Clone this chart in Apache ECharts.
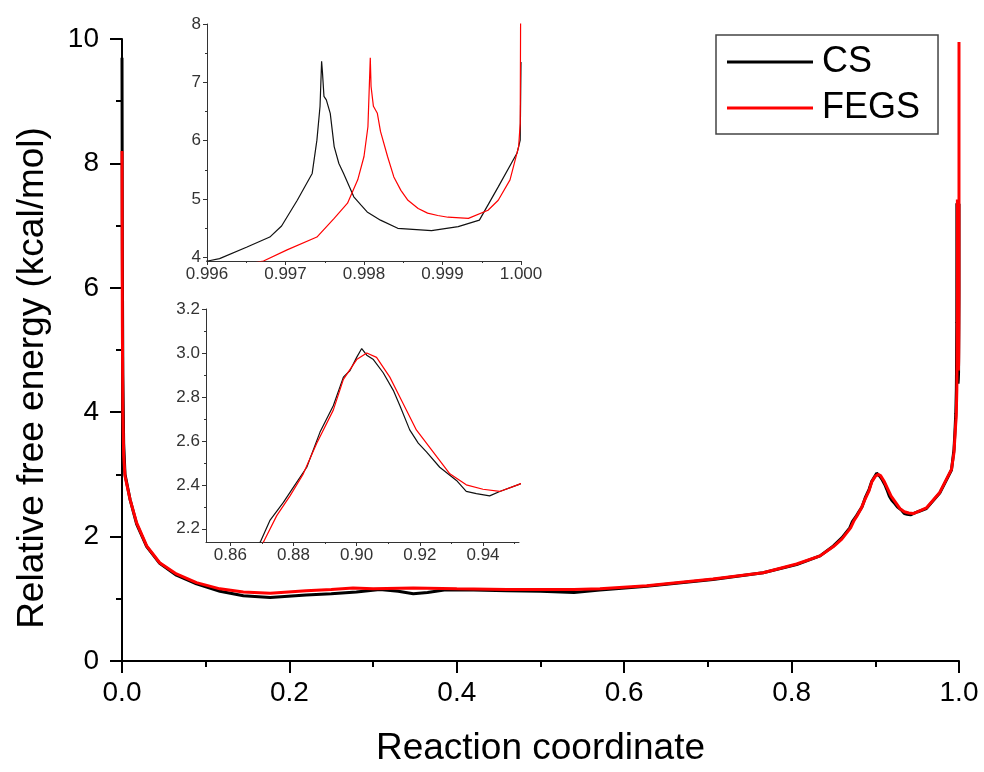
<!DOCTYPE html>
<html>
<head>
<meta charset="utf-8">
<title>Relative free energy</title>
<script src="https://cdn.jsdelivr.net/npm/echarts@6.0.0/dist/echarts.min.js"></script>
<style>
    html, body { margin: 0; padding: 0; background: #fff; }
    #main { width: 984px; height: 772px; }
</style>
</head>
<body>
<div id="main"></div>
<script>
// values: [reaction coordinate, free energy]
var csBody = [[0, 9.7], [0.0004, 6.6], [0.001, 4.6], [0.002, 3.5], [0.0036, 3.0], [0.0096, 2.6], [0.0175, 2.2],
    [0.0295, 1.84], [0.045, 1.57], [0.065, 1.38], [0.089, 1.24], [0.117, 1.12], [0.145, 1.05], [0.177, 1.02],
    [0.22, 1.06], [0.25, 1.08], [0.28, 1.11], [0.308, 1.15], [0.33, 1.12], [0.348, 1.08], [0.365, 1.10],
    [0.385, 1.14], [0.42, 1.14], [0.46, 1.13], [0.5, 1.12], [0.54, 1.10], [0.571, 1.14], [0.627, 1.20],
    [0.706, 1.31], [0.766, 1.42], [0.806, 1.55], [0.834, 1.69], [0.85, 1.85], [0.86, 1.98]];
var csPeak = [[0.8695, 2.14], [0.8726, 2.24], [0.8768, 2.32], [0.88, 2.39], [0.8842, 2.48], [0.8884, 2.64],
    [0.8926, 2.76], [0.8958, 2.89], [0.8979, 2.92], [0.9, 2.98], [0.9016, 3.02], [0.9032, 2.99], [0.9053, 2.97],
    [0.9084, 2.91], [0.9116, 2.83], [0.9137, 2.76], [0.9168, 2.65], [0.9195, 2.59], [0.9221, 2.55],
    [0.9263, 2.48], [0.9316, 2.42], [0.9347, 2.37], [0.9379, 2.36], [0.9421, 2.35], [0.9453, 2.37],
    [0.951, 2.40], [0.961, 2.45], [0.977, 2.70], [0.991, 3.07], [0.994, 3.4], [0.995, 3.65]];
var csEnd = [[0.99601, 3.94], [0.99616, 3.98], [0.99651, 4.18], [0.9968, 4.35], [0.99695, 4.54], [0.99715, 4.98],
    [0.99734, 5.44], [0.9974, 6.01], [0.99744, 6.59], [0.99746, 7.36], [0.99747, 7.19], [0.99749, 6.76],
    [0.99752, 6.70], [0.99757, 6.47], [0.99762, 5.90], [0.99768, 5.61], [0.99774, 5.44], [0.99787, 5.04],
    [0.99796, 4.90], [0.99804, 4.78], [0.99821, 4.64], [0.99843, 4.50], [0.99886, 4.46], [0.9992, 4.53],
    [0.99947, 4.64], [0.99971, 5.21], [0.99995, 5.79], [0.99999, 6.01], [1.0, 7.35]];

var fegsBody = [[0, 8.2], [0.0004, 5.5], [0.001, 4.0], [0.002, 3.3], [0.0036, 2.97], [0.0096, 2.6], [0.0175, 2.22],
    [0.0295, 1.85], [0.045, 1.58], [0.065, 1.40], [0.089, 1.26], [0.117, 1.16], [0.145, 1.11], [0.177, 1.09],
    [0.22, 1.13], [0.25, 1.15], [0.276, 1.175], [0.30, 1.16], [0.348, 1.175], [0.40, 1.16], [0.46, 1.15],
    [0.54, 1.15], [0.571, 1.16], [0.627, 1.21], [0.706, 1.32], [0.766, 1.42], [0.806, 1.56], [0.834, 1.69],
    [0.85, 1.84], [0.86, 1.96]];
var fegsPeak = [[0.8705, 2.14], [0.8747, 2.26], [0.8789, 2.35], [0.8831, 2.45], [0.8874, 2.59], [0.8926, 2.74],
    [0.8958, 2.88], [0.9, 2.97], [0.9032, 3.0], [0.9063, 2.98], [0.9105, 2.89], [0.9147, 2.77], [0.9189, 2.65],
    [0.9242, 2.55], [0.9295, 2.45], [0.9347, 2.40], [0.94, 2.38], [0.9453, 2.37], [0.951, 2.40], [0.961, 2.46],
    [0.977, 2.71], [0.991, 3.08], [0.994, 3.35], [0.996, 3.8]];
var fegsEnd = [[0.99657, 3.90], [0.99672, 3.94], [0.99702, 4.13], [0.9974, 4.35], [0.99762, 4.67], [0.99779, 4.93],
    [0.99792, 5.33], [0.998, 5.73], [0.99805, 6.24], [0.99808, 7.42], [0.99809, 6.93], [0.99812, 6.59],
    [0.99817, 6.47], [0.99821, 6.16], [0.9983, 5.73], [0.99838, 5.38], [0.99847, 5.15], [0.99856, 4.98],
    [0.99869, 4.84], [0.99881, 4.76], [0.99894, 4.72], [0.99907, 4.69], [0.99933, 4.67], [0.99958, 4.81],
    [0.99971, 4.98], [0.99986, 5.33], [0.99997, 5.90], [0.99999, 6.3], [1.0, 9.95]];

// tick values of the two insets
var inset1XTicks = [0.996, 0.997, 0.998, 0.999, 1.000];
var inset1XMinor = [0.9965, 0.9975, 0.9985, 0.9995];
var inset1YTicks = [4, 5, 6, 7, 8];
var inset1YMinor = [4.5, 5.5, 6.5, 7.5];
var inset2XTicks = [0.86, 0.88, 0.90, 0.92, 0.94];
var inset2XMinor = [0.87, 0.89, 0.91, 0.93, 0.95];
var inset2YTicks = [2.2, 2.4, 2.6, 2.8, 3.0, 3.2];
var inset2YMinor = [2.3, 2.5, 2.7, 2.9, 3.1];

var FONT = '"Liberation Sans", Arial, sans-serif';
var csData = csBody.concat(csPeak, csEnd);
var fegsData = fegsBody.concat(fegsPeak, fegsEnd);

// axis of an inset: line, major ticks, labels
function insetAxis(grid, min, max, ticks, digits, isX) {
    return {
        type: 'value', gridIndex: grid, min: min, max: max,
        position: isX ? 'bottom' : 'left',
        axisLine: { show: true, onZero: false, lineStyle: { color: '#333', width: 1 } },
        axisTick: { show: true, customValues: ticks, length: 4, lineStyle: { color: '#333', width: 1 } },
        axisLabel: {
            customValues: ticks, margin: isX ? 5 : 6, color: '#333', fontSize: 17, fontFamily: FONT,
            formatter: function (v) { return v.toFixed(digits); }
        },
        splitLine: { show: false }
    };
}

// shadow axis carrying the short minor ticks only
function minorAxis(grid, min, max, ticks, isX) {
    return {
        type: 'value', gridIndex: grid, min: min, max: max,
        position: isX ? 'bottom' : 'left',
        axisLine: { show: false, onZero: false },
        axisTick: { show: true, customValues: ticks, length: 2, lineStyle: { color: '#333', width: 1 } },
        axisLabel: { show: false },
        splitLine: { show: false }
    };
}

function lineSeries(name, data, idx, color, width) {
    return {
        name: name, type: 'line', xAxisIndex: idx, yAxisIndex: idx, data: data,
        symbol: 'none', showSymbol: false, clip: true, animation: false,
        lineStyle: { color: color, width: width }, itemStyle: { color: color }
    };
}

var myChart = echarts.init(document.getElementById('main'));

var option = {
    backgroundColor: '#fff',
    animation: false,
    grid: [
        { left: 122, top: 39, width: 837, height: 627 },
        { left: 207, top: 24, width: 314, height: 237 },
        { left: 206, top: 309, width: 313, height: 233 }
    ],
    legend: {
        data: ['CS', 'FEGS'], orient: 'vertical', left: 716, top: 35,
        icon: 'rect', itemWidth: 86, itemHeight: 3, itemGap: 10,
        padding: [9, 18, 8, 11],
        borderColor: '#444', borderWidth: 1.5,
        textStyle: { fontSize: 36, fontFamily: FONT, color: '#000', padding: [0, 0, 0, 4] }
    },
    xAxis: [
        {
            type: 'value', gridIndex: 0, min: 0, max: 1, interval: 0.2,
            name: 'Reaction coordinate', nameLocation: 'middle', nameGap: 69,
            nameTextStyle: { fontSize: 37, fontFamily: FONT, color: '#000' },
            axisLine: { lineStyle: { color: '#000', width: 2 } },
            axisTick: { length: 12, lineStyle: { color: '#000', width: 2 } },
            minorTick: { show: true, splitNumber: 2, length: 6, lineStyle: { color: '#000', width: 2 } },
            axisLabel: {
                margin: 18, fontSize: 28, fontFamily: FONT, color: '#000',
                formatter: function (v) { return v.toFixed(1); }
            },
            splitLine: { show: false }
        },
        insetAxis(1, 0.996, 1.0, inset1XTicks, 3, true),
        minorAxis(1, 0.996, 1.0, inset1XMinor, true),
        insetAxis(2, 0.8523, 0.9514, inset2XTicks, 2, true),
        minorAxis(2, 0.8523, 0.9514, inset2XMinor, true)
    ],
    yAxis: [
        {
            type: 'value', gridIndex: 0, min: 0, max: 10, interval: 2,
            axisLine: { show: true, lineStyle: { color: '#000', width: 2 } },
            axisTick: { show: true, length: 12, lineStyle: { color: '#000', width: 2 } },
            minorTick: { show: true, splitNumber: 2, length: 6, lineStyle: { color: '#000', width: 2 } },
            axisLabel: { margin: 23, fontSize: 28, fontFamily: FONT, color: '#000' },
            splitLine: { show: false }
        },
        insetAxis(1, 3.94, 8, inset1YTicks, 0, false),
        minorAxis(1, 3.94, 8, inset1YMinor, false),
        insetAxis(2, 2.14, 3.2, inset2YTicks, 1, false),
        minorAxis(2, 2.14, 3.2, inset2YMinor, false)
    ],
    graphic: [{
        type: 'text', x: 33, y: 378, rotation: Math.PI / 2,
        style: {
            text: 'Relative free energy (kcal/mol)', fontSize: 37, fontFamily: FONT, fill: '#000',
            textAlign: 'center', textVerticalAlign: 'middle'
        }
    }],
    series: [
        lineSeries('CS', csData, 0, '#000', 3),
        lineSeries('FEGS', fegsData, 0, '#ff0000', 3),
        lineSeries('CS', csData, 1, '#111', 1.2),
        lineSeries('FEGS', fegsData, 1, '#ff0000', 1.2),
        lineSeries('CS', csData, 3, '#111', 1.2),
        lineSeries('FEGS', fegsData, 3, '#ff0000', 1.2)
    ]
};

myChart.setOption(option);
</script>
</body>
</html>
